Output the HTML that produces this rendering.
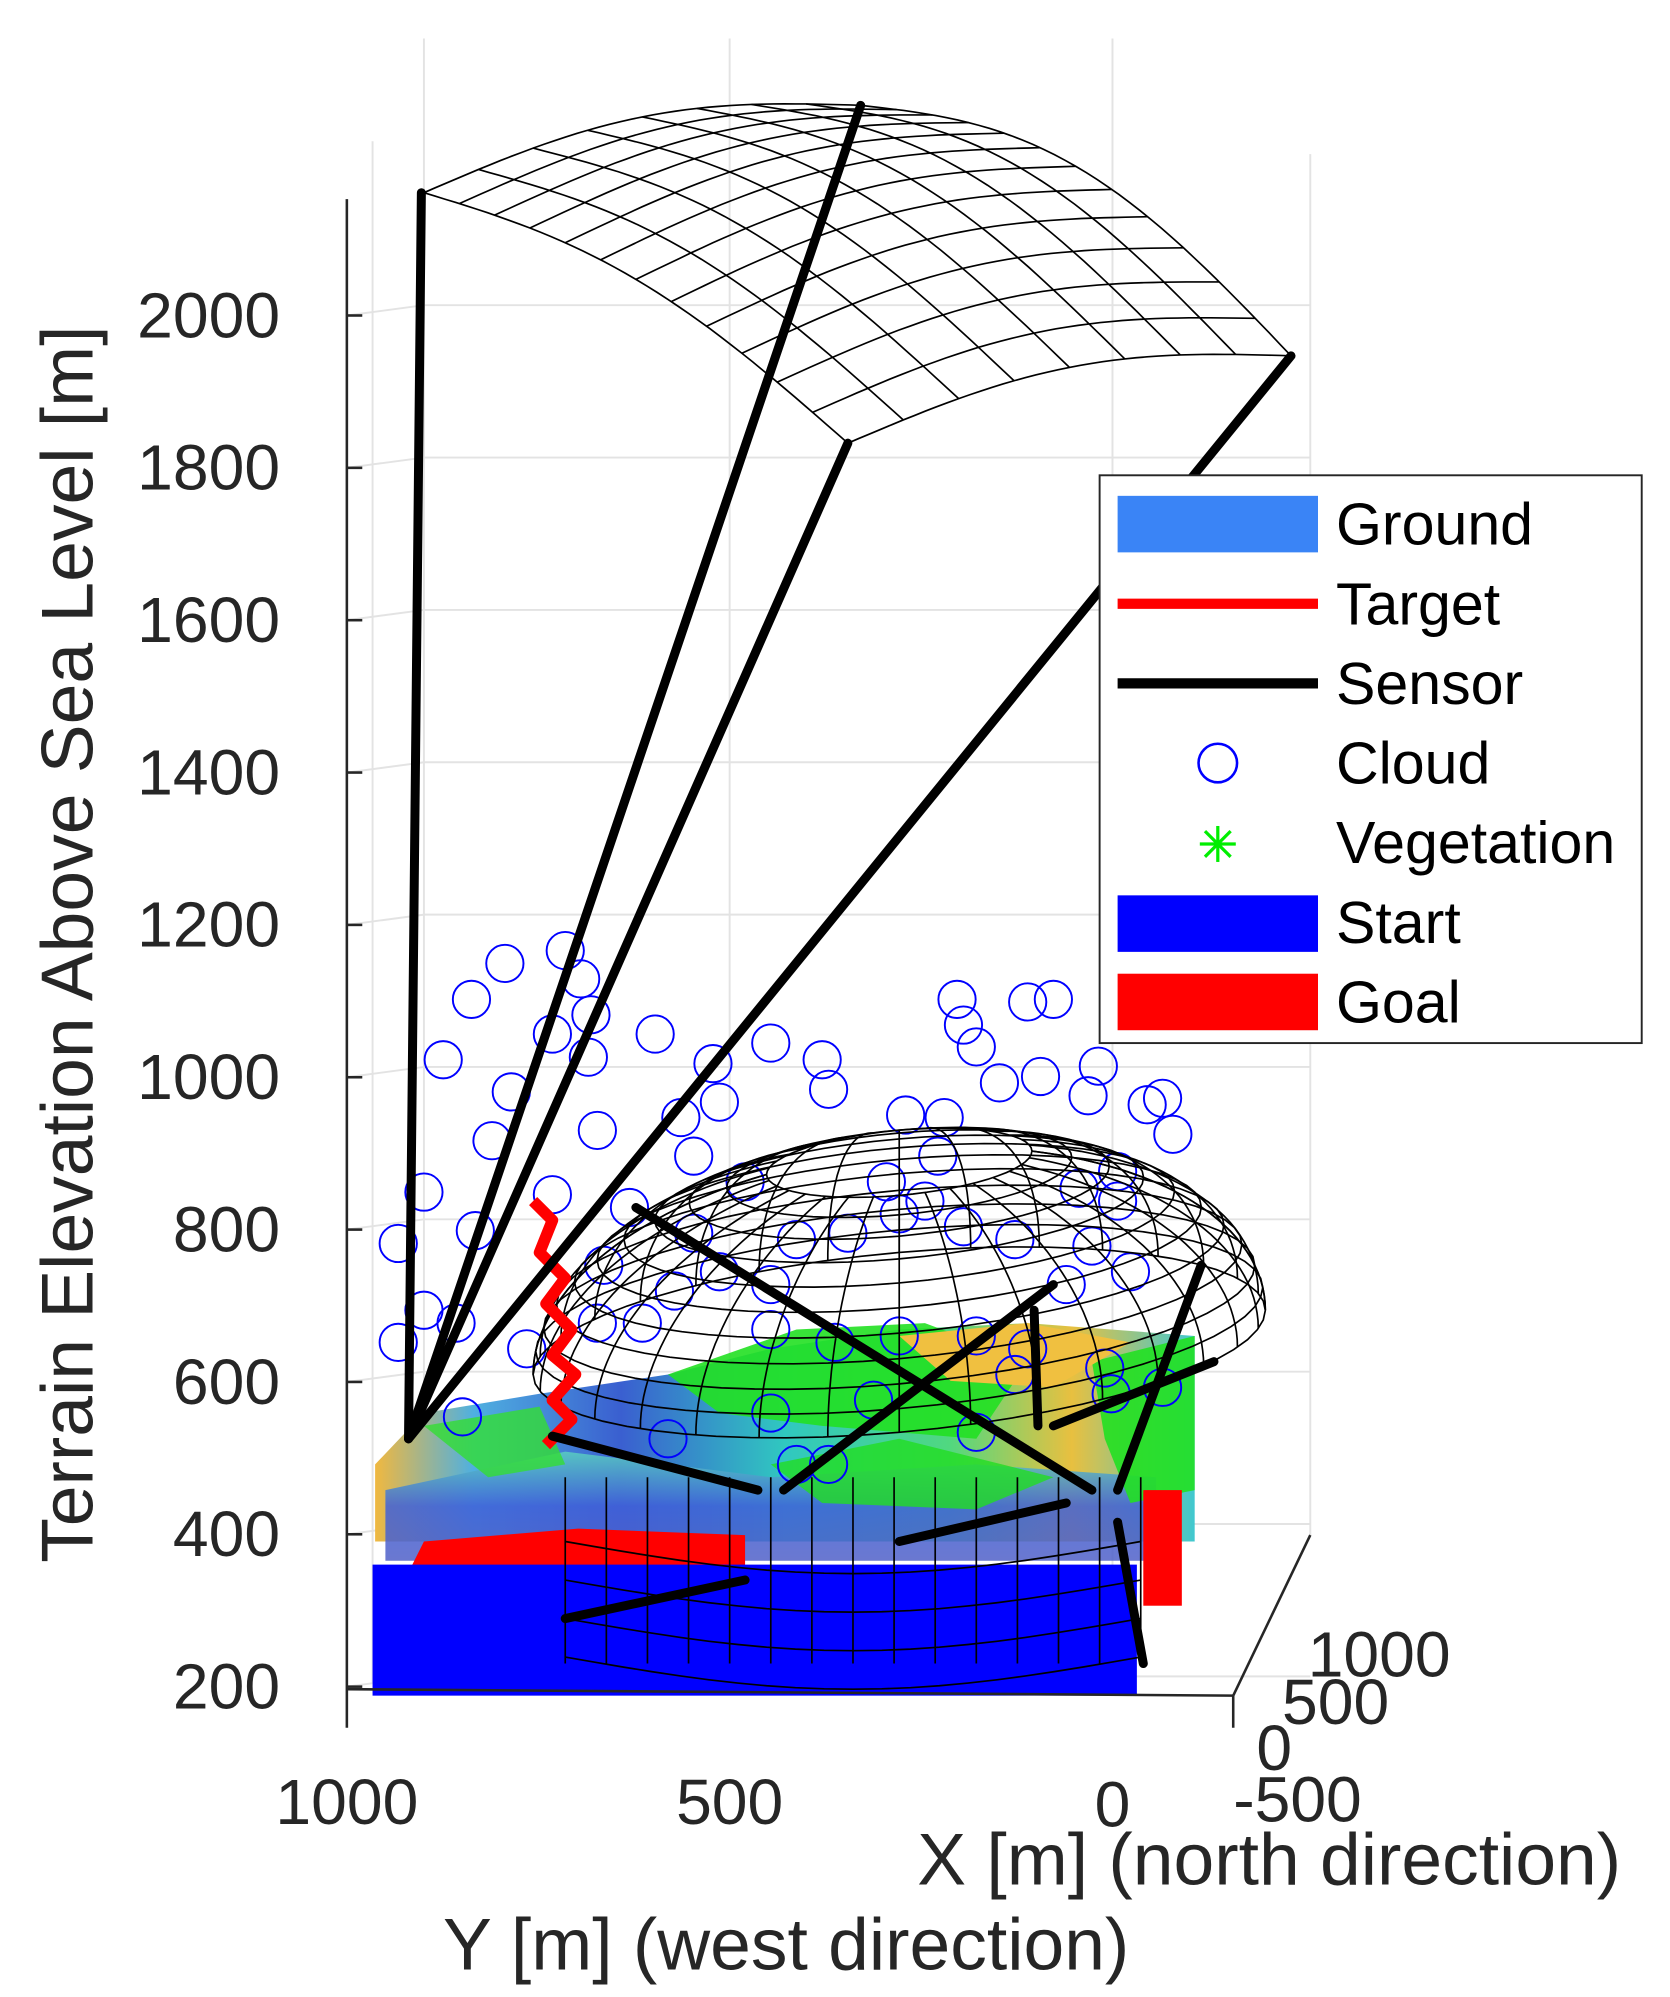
<!DOCTYPE html>
<html><head><meta charset="utf-8">
<style>html,body{margin:0;padding:0;background:#fff;}svg{display:block;}</style>
</head><body>
<svg id="s" width="1670" height="1997" viewBox="0 0 1300 1554.6" xmlns="http://www.w3.org/2000/svg" font-family="Liberation Sans, Arial, sans-serif">
<defs>
<linearGradient id="terr" x1="0" y1="0" x2="1" y2="0">
<stop offset="0" stop-color="#f0b840"/><stop offset="0.12" stop-color="#4fb0e0"/><stop offset="0.3" stop-color="#3a5fd0"/><stop offset="0.5" stop-color="#30c8c0"/><stop offset="0.7" stop-color="#50d880"/><stop offset="0.85" stop-color="#e8c040"/><stop offset="1" stop-color="#40c8d0"/>
</linearGradient>
<linearGradient id="terr2" x1="0" y1="0" x2="0" y2="1">
<stop offset="0" stop-color="#5ad0c0"/><stop offset="0.5" stop-color="#4060d8"/><stop offset="1" stop-color="#5060c8"/>
</linearGradient>
</defs>
<g stroke="#e3e3e3" stroke-width="1.5" fill="none" id="grid"></g>
<g id="terrain">
<polygon points="292,1140 330,1100 420,1085 520,1070 600,1050 700,1035 800,1030 930,1040 930,1200 292,1200" fill="url(#terr)"/>
<polygon points="300,1160 440,1130 600,1150 760,1140 900,1150 900,1215 300,1215" fill="url(#terr2)" opacity="0.85"/>
<polygon points="520,1070 620,1035 720,1030 800,1060 760,1120 640,1110 560,1100" fill="#22e022" opacity="0.9"/>
<polygon points="850,1060 930,1040 930,1160 880,1170 860,1120" fill="#22e022" opacity="0.9"/>
<polygon points="330,1110 420,1095 440,1140 380,1150" fill="#33dd33" opacity="0.8"/>
<polygon points="700,1040 800,1030 880,1045 820,1080 740,1075" fill="#f0c040"/>
<polygon points="600,1140 700,1120 820,1150 760,1175 640,1170" fill="#22dd22" opacity="0.8"/>
<polygon points="330,1200 450,1190 580,1195 580,1220 320,1220" fill="#ff0000"/>
<rect x="890" y="1160" width="30" height="90" fill="#ff0000"/>
<rect x="290" y="1218" width="595" height="102" fill="#0000ff"/>
</g>
<g id="clouds" fill="none" stroke="#0000ff" stroke-width="1.5"></g>
<g id="mesh" fill="none" stroke="#000" stroke-width="1.3"></g>
<polyline points="415,935 430,950 420,975 440,995 425,1015 445,1035 430,1055 448,1070 430,1090 445,1105 425,1125" fill="none" stroke="#ff0000" stroke-width="9" stroke-linejoin="round"/>
<g stroke="#000" stroke-width="7" stroke-linecap="round">
<line x1="318" y1="1120" x2="328" y2="150"/>
<line x1="318" y1="1120" x2="670" y2="82"/>
<line x1="318" y1="1120" x2="660" y2="345"/>
<line x1="318" y1="1120" x2="1005" y2="277"/>
<line x1="430" y1="1118" x2="590" y2="1160"/>
<line x1="495" y1="940" x2="850" y2="1160"/>
<line x1="610" y1="1160" x2="820" y2="1000"/>
<line x1="440" y1="1260" x2="580" y2="1230"/>
<line x1="700" y1="1200" x2="830" y2="1170"/>
<line x1="870" y1="1185" x2="890" y2="1295"/>
<line x1="935" y1="985" x2="870" y2="1160"/>
<line x1="808" y1="1110" x2="805" y2="1020"/>
<line x1="820" y1="1110" x2="945" y2="1060"/>
</g>
<g stroke="#262626" stroke-width="2" fill="none">
<line x1="270" y1="155" x2="270" y2="1345"/>
<line x1="270" y1="1315" x2="960" y2="1320"/>
<line x1="960" y1="1320" x2="1020" y2="1195"/>
<line x1="960" y1="1320" x2="960" y2="1345"/>
</g>
<g id="ticks" stroke="#262626" stroke-width="2"></g>
<g fill="#262626" font-size="50" text-anchor="end" id="zl"></g>
<g fill="#262626" font-size="50" text-anchor="middle">
<text x="270" y="1420">1000</text><text x="568" y="1420">500</text><text x="866" y="1422">0</text>
</g>
<g fill="#262626" font-size="50">
<text x="1018" y="1305">1000</text><text x="998" y="1342">500</text><text x="978" y="1378">0</text><text x="960" y="1418">-500</text>
</g>
<text x="988" y="1467" fill="#262626" font-size="57" text-anchor="middle">X [m] (north direction)</text>
<text x="612" y="1533" fill="#262626" font-size="57" text-anchor="middle">Y [m] (west direction)</text>
<text transform="translate(72,735) rotate(-90)" fill="#262626" font-size="57" text-anchor="middle">Terrain Elevation Above Sea Level [m]</text>
<rect x="856" y="370" width="422" height="442" fill="#fff" stroke="#262626" stroke-width="1.5"/>
<rect x="870" y="386" width="156" height="44" fill="#3a84f6"/>
<line x1="870" y1="470" x2="1026" y2="470" stroke="#ff0000" stroke-width="8"/>
<line x1="870" y1="532" x2="1026" y2="532" stroke="#000" stroke-width="8"/>
<circle cx="948" cy="594" r="15" fill="none" stroke="#0000ff" stroke-width="2"/>
<g stroke="#00ee00" stroke-width="2.5"><line x1="934" y1="657" x2="962" y2="657"/><line x1="948" y1="643" x2="948" y2="671"/><line x1="938" y1="647" x2="958" y2="667"/><line x1="958" y1="647" x2="938" y2="667"/></g>
<rect x="870" y="697" width="156" height="44" fill="#0000ff"/>
<rect x="870" y="758" width="156" height="44" fill="#ff0000"/>
<g fill="#000" font-size="46">
<text x="1040" y="424">Ground</text><text x="1040" y="486">Target</text><text x="1040" y="548">Sensor</text><text x="1040" y="610">Cloud</text><text x="1040" y="672">Vegetation</text><text x="1040" y="734">Start</text><text x="1040" y="796">Goal</text>
</g>
<script>
var NS="http://www.w3.org/2000/svg";
function el(p,t,a){var e=document.createElementNS(NS,t);for(var k in a)e.setAttribute(k,a[k]);document.getElementById(p).appendChild(e);return e;}
for(var i=0;i<10;i++){var y=1313-i*118.6;el("grid","line",{x1:270,y1:y,x2:330,y2:y-8});el("grid","line",{x1:330,y1:y-8,x2:1020,y2:y-8});
el("ticks","line",{x1:270,y1:y,x2:282,y2:y});
var t=el("zl","text",{x:218,y:y+17});t.textContent=String(200+i*200);}
[330,568,866].forEach(function(x){el("grid","line",{x1:x,y1:30,x2:x,y2:1305});});
el("grid","line",{x1:1020,y1:120,x2:1020,y2:1195});
el("grid","line",{x1:290,y1:110,x2:290,y2:1310});
function P(u,v){var A=[330,150],B=[670,82],C=[1005,277],D=[660,345];
var x=(1-u)*(1-v)*A[0]+u*(1-v)*B[0]+u*v*C[0]+(1-u)*v*D[0];
var y=(1-u)*(1-v)*A[1]+u*(1-v)*B[1]+u*v*C[1]+(1-u)*v*D[1];
y-=50*Math.sin(Math.PI*v)*(0.6+0.4*u);y-=25*Math.sin(Math.PI*u);return [x,y];}
function line(g,pts){el(g,"polyline",{points:pts.map(function(p){return p[0].toFixed(1)+","+p[1].toFixed(1)}).join(" ")});}
for(var i=0;i<=8;i++){var a=[];for(var j=0;j<=40;j++)a.push(P(i/8,j/40));line("mesh",a);}
for(var i=0;i<=12;i++){var a=[];for(var j=0;j<=40;j++)a.push(P(j/40,i/12));line("mesh",a);}
// dome
function Q(az,e){var cx=700,cy=1045,rx=285,rz=150,ry=70;
var x=cx+rx*Math.cos(az)*Math.cos(e);var y=cy+ry*Math.sin(az)*Math.cos(e)-rz*Math.sin(e)-25*Math.cos(az)*Math.cos(e);return [x,y];}
for(var i=0;i<=16;i++){var az=Math.PI*i/16;var a=[];for(var j=0;j<=30;j++)a.push(Q(-az,j/30*1.2));line("mesh",a);var b=[];for(var j=0;j<=30;j++)b.push(Q(az,j/30*1.2));line("mesh",b);}
for(var k=0;k<=10;k++){var e2=k/10*1.2;var a=[];for(var j=0;j<=60;j++)a.push(Q(2*Math.PI*j/60,e2));line("mesh",a);}
for(var i=0;i<=14;i++){var x=440+i*32;el("mesh","line",{x1:x,y1:1150,x2:x,y2:1295});}
for(var k=0;k<4;k++){var a=[];for(var j=0;j<=20;j++){var x=440+j*22.4;a.push([x,1200+k*30+25*Math.sin(Math.PI*j/20)]);}line("mesh",a);}
var C=[[310,968],[330,928],[345,825],[367,778],[393,750],[440,740],[452,762],[460,790],[430,805],[458,823],[510,805],[555,828],[600,812],[640,825],[645,848],[560,858],[530,870],[465,880],[383,888],[398,850],[745,778],[750,798],[800,780],[820,778],[760,815],[778,843],[810,838],[855,830],[847,853],[893,860],[905,855],[913,883],[870,912],[705,868],[735,870],[730,900],[540,900],[580,920],[690,920],[720,935],[840,925],[870,935],[330,1020],[310,1045],[370,958],[430,930],[490,940],[540,960],[620,965],[660,960],[700,945],[750,955],[790,965],[850,970],[880,990],[470,985],[525,1005],[600,1000],[465,1030],[500,1030],[600,1035],[650,1045],[700,1040],[760,1040],[800,1050],[860,1065],[905,1080],[865,1085],[360,1103],[520,1120],[600,1100],[680,1090],[620,1140],[645,1140],[760,1115],[790,1070],[355,1030],[410,1050],[560,990],[830,1000]];
C.forEach(function(c){el("clouds","circle",{cx:c[0],cy:c[1],r:14.5});});
</script>
</svg>
</body></html>
